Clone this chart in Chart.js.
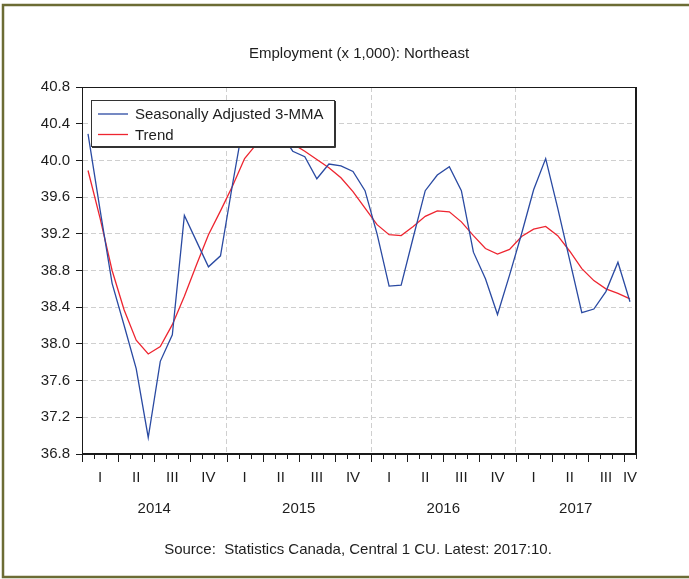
<!DOCTYPE html>
<html>
<head>
<meta charset="utf-8">
<title>Employment (x 1,000): Northeast</title>
<script src="https://cdn.jsdelivr.net/npm/chart.js@4.4.1/dist/chart.umd.min.js"></script>
<style>
  html, body { margin: 0; padding: 0; background: #fff; }
  canvas { display: block; }
</style>
</head>
<body>
<canvas id="employmentChart" width="689" height="579"></canvas>
<script>
// monthly observations, Jan 2014 .. Oct 2017
const months = [
  '2014:01', '2014:02', '2014:03', '2014:04', '2014:05', '2014:06',
  '2014:07', '2014:08', '2014:09', '2014:10', '2014:11', '2014:12',
  '2015:01', '2015:02', '2015:03', '2015:04', '2015:05', '2015:06',
  '2015:07', '2015:08', '2015:09', '2015:10', '2015:11', '2015:12',
  '2016:01', '2016:02', '2016:03', '2016:04', '2016:05', '2016:06',
  '2016:07', '2016:08', '2016:09', '2016:10', '2016:11', '2016:12',
  '2017:01', '2017:02', '2017:03', '2017:04', '2017:05', '2017:06',
  '2017:07', '2017:08', '2017:09', '2017:10'
];

const sa3mma = [
  40.29, 39.46, 38.66, 38.20, 37.73, 36.98, 37.81, 38.10, 39.40, 39.12, 38.84, 38.96,
  39.74, 40.48, 40.45, 40.38, 40.30, 40.10, 40.04, 39.80, 39.96, 39.94, 39.88, 39.67,
  39.20, 38.63, 38.64, 39.16, 39.67, 39.84, 39.93, 39.67, 39.00, 38.71, 38.32, 38.75,
  39.20, 39.68, 40.02, 39.48, 38.91, 38.34, 38.38, 38.57, 38.89, 38.46
];

const trend = [
  39.89, 39.37, 38.80, 38.37, 38.04, 37.89, 37.97, 38.21, 38.52, 38.86, 39.19, 39.45,
  39.72, 40.02, 40.18, 40.26, 40.26, 40.18, 40.10, 40.01, 39.92, 39.81, 39.66, 39.48,
  39.30, 39.19, 39.18, 39.28, 39.39, 39.45, 39.44, 39.33, 39.18, 39.04, 38.98, 39.03,
  39.17, 39.25, 39.28, 39.18, 39.01, 38.82, 38.69, 38.60, 38.55, 38.49
];

const years = ['2014', '2015', '2016', '2017'];
const quarters = ['I', 'II', 'III', 'IV'];
const yTicks = [36.8, 37.2, 37.6, 38.0, 38.4, 38.8, 39.2, 39.6, 40.0, 40.4, 40.8];

const FONT = "'Liberation Sans', Arial, sans-serif";
const TEXT = '#1e1e1e';

// month span [start, end) of the months matching a test
function spanOf(test) {
  const idx = [];
  months.forEach((m, i) => { if (test(m)) idx.push(i); });
  if (!idx.length) return null;
  return [idx[0], idx[idx.length - 1] + 1];
}

// x ticks: quarter labels, year labels underneath, year boundaries
const xTicks = [{ value: 0, label: '' }, { value: months.length, label: '' }];
const yearLines = [];
years.forEach(yr => {
  const ys = spanOf(m => m.startsWith(yr));
  xTicks.push({ value: (ys[0] + ys[1]) / 2, label: ['', yr] });
  if (ys[0] > 0) {
    xTicks.push({ value: ys[0], label: '' });
    yearLines.push(ys[0]);
  }
  quarters.forEach((q, qi) => {
    const qs = spanOf(m => m.startsWith(yr) && Math.floor((+m.slice(5) - 1) / 3) === qi);
    if (qs) xTicks.push({ value: (qs[0] + qs[1]) / 2, label: q });
  });
});
xTicks.sort((a, b) => a.value - b.value);

const framePlugin = {
  id: 'frame',
  beforeDraw(chart) {
    const { ctx, width } = chart;
    ctx.save();
    ctx.fillStyle = '#fff';
    ctx.fillRect(0, 0, chart.width, chart.height);
    ctx.strokeStyle = '#6c6c34';
    ctx.lineWidth = 2.5;
    ctx.beginPath();
    ctx.moveTo(width, 5);
    ctx.lineTo(3, 5);
    ctx.lineTo(3, 577);
    ctx.lineTo(width, 577);
    ctx.stroke();
    ctx.restore();
  }
};

const decorPlugin = {
  id: 'decor',
  afterDatasetsDraw(chart) {
    const { ctx, chartArea: a, scales: { x } } = chart;
    ctx.save();

    // box round the plot
    ctx.strokeStyle = '#1a1a1a';
    ctx.lineWidth = 1;
    ctx.strokeRect(Math.round(a.left) + 0.5, Math.round(a.top) + 0.5,
                   Math.round(a.width) - 1, Math.round(a.height) - 1);
    ctx.beginPath();
    ctx.moveTo(Math.round(a.right) + 0.5, a.top);
    ctx.lineTo(Math.round(a.right) + 0.5, a.bottom);
    ctx.stroke();

    // month ticks, longer at quarter boundaries
    ctx.beginPath();
    for (let i = 0; i <= months.length; i++) {
      const px = Math.round(x.getPixelForValue(i)) + 0.5;
      const len = i % 3 === 0 ? 8 : 5;
      ctx.moveTo(px, a.bottom);
      ctx.lineTo(px, a.bottom + len);
    }
    ctx.stroke();

    // legend box
    const lx = Math.round(a.left) + 9, ly = Math.round(a.top) + 13, lw = 243, lh = 46;
    ctx.fillStyle = '#fff';
    ctx.fillRect(lx, ly, lw, lh);
    ctx.strokeStyle = '#333';
    ctx.strokeRect(lx + 0.5, ly + 0.5, lw, lh);
    ctx.beginPath();
    ctx.moveTo(lx + lw + 1.5, ly + 1);
    ctx.lineTo(lx + lw + 1.5, ly + lh + 1.5);
    ctx.lineTo(lx + 1, ly + lh + 1.5);
    ctx.stroke();
    ctx.font = '15px ' + FONT;
    ctx.textBaseline = 'middle';
    ctx.textAlign = 'left';
    chart.data.datasets.forEach((ds, i) => {
      const yy = ly + 14 + i * 20.5;
      ctx.strokeStyle = ds.borderColor;
      ctx.lineWidth = 1.3;
      ctx.beginPath();
      ctx.moveTo(lx + 7, yy);
      ctx.lineTo(lx + 37, yy);
      ctx.stroke();
      ctx.fillStyle = TEXT;
      ctx.fillText(ds.label, lx + 44, yy + 1);
    });

    // title and source line
    const cx = (a.left + a.right) / 2;
    ctx.textAlign = 'center';
    ctx.fillStyle = TEXT;
    ctx.font = '15px ' + FONT;
    ctx.fillText('Employment (x 1,000): Northeast', cx, 54);
    ctx.fillText('Source:  Statistics Canada, Central 1 CU. Latest: 2017:10.', cx - 1, 550);
    ctx.restore();
  }
};

const ctx = document.getElementById('employmentChart').getContext('2d');
new Chart(ctx, {
  type: 'line',
  data: {
    datasets: [
      {
        label: 'Seasonally Adjusted 3-MMA',
        data: sa3mma.map((v, i) => ({ x: i + 0.5, y: v })),
        borderColor: '#2a4aa2',
        borderWidth: 1.3,
        pointRadius: 0,
        tension: 0
      },
      {
        label: 'Trend',
        data: trend.map((v, i) => ({ x: i + 0.5, y: v })),
        borderColor: '#ee2530',
        borderWidth: 1.3,
        pointRadius: 0,
        tension: 0
      }
    ]
  },
  options: {
    responsive: false,
    animation: false,
    devicePixelRatio: 1,
    layout: { padding: { top: 87, right: 53, bottom: 65, left: 0 } },
    plugins: {
      legend: { display: false },
      title: { display: false },
      tooltip: { enabled: false }
    },
    scales: {
      x: {
        type: 'linear',
        min: 0,
        max: months.length,
        afterBuildTicks: scale => { scale.ticks = xTicks.map(t => ({ value: t.value })); },
        afterFit: scale => { scale.height = 60; },
        ticks: {
          autoSkip: false,
          maxRotation: 0,
          padding: 8,
          color: TEXT,
          font: { family: FONT, size: 15, lineHeight: 2.1 },
          callback: (value, index) => xTicks[index].label
        },
        grid: {
          drawTicks: false,
          color: c => (c.tick && yearLines.includes(c.tick.value)) ? '#cfcfcf' : 'rgba(0,0,0,0)',
          lineWidth: 1
        },
        border: { display: true, color: '#1a1a1a', dash: [5, 3] }
      },
      y: {
        min: yTicks[0],
        max: yTicks[yTicks.length - 1],
        afterBuildTicks: scale => { scale.ticks = yTicks.map(v => ({ value: v })); },
        afterFit: scale => { scale.width = 82; },
        ticks: {
          padding: 6,
          color: TEXT,
          font: { family: FONT, size: 15 },
          callback: value => value.toFixed(1)
        },
        grid: {
          color: '#cfcfcf',
          tickColor: '#1a1a1a',
          tickLength: 6,
          lineWidth: 1
        },
        border: { display: true, color: '#1a1a1a', dash: [5, 3] }
      }
    }
  },
  plugins: [framePlugin, decorPlugin]
});
</script>
</body>
</html>
